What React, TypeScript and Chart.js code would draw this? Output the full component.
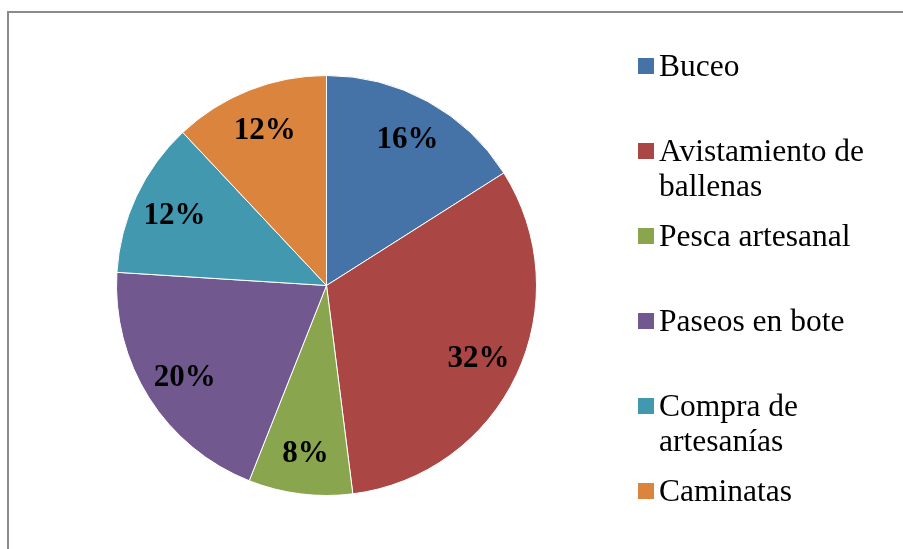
import React, { useEffect, useRef } from "react";
import { Chart, registerables } from "chart.js";

Chart.register(...registerables);

const categories = [
  "Buceo",
  "Avistamiento de ballenas",
  "Pesca artesanal",
  "Paseos en bote",
  "Compra de artesanías",
  "Caminatas",
];
const shares = [16, 32, 8, 20, 12, 12];
const colors = ["#4572A7", "#AA4643", "#89A54E", "#71588F", "#4198AF", "#DB843D"];

const W = 903;
const H = 549;
const SERIF = "'Liberation Serif', 'Times New Roman', serif";

function wrapText(ctx: CanvasRenderingContext2D, text: string, maxWidth: number): string[] {
  const words = text.split(" ");
  const lines: string[] = [];
  let cur = "";
  for (const w of words) {
    const test = cur ? cur + " " + w : w;
    if (cur && ctx.measureText(test).width > maxWidth) {
      lines.push(cur);
      cur = w;
    } else {
      cur = test;
    }
  }
  if (cur) lines.push(cur);
  return lines;
}

const sliceLabels = {
  id: "sliceLabels",
  afterDatasetsDraw(chart: any) {
    const ctx = chart.ctx as CanvasRenderingContext2D;
    const meta = chart.getDatasetMeta(0);
    const data = chart.data.datasets[0].data as number[];
    ctx.save();
    ctx.font = `bold 31px ${SERIF}`;
    ctx.fillStyle = "#000";
    ctx.textAlign = "center";
    ctx.textBaseline = "alphabetic";
    meta.data.forEach((arc: any, i: number) => {
      const { x, y, startAngle, endAngle, outerRadius } = arc.getProps(
        ["x", "y", "startAngle", "endAngle", "outerRadius"],
        true
      );
      const mid = (startAngle + endAngle) / 2;
      const r = outerRadius * 0.8;
      ctx.fillText(`${data[i]}%`, x + Math.cos(mid) * r, y + Math.sin(mid) * r + 10);
    });
    ctx.restore();
  },
};

const sideLegend = {
  id: "sideLegend",
  afterDraw(chart: any) {
    const ctx = chart.ctx as CanvasRenderingContext2D;
    const labels = chart.data.labels as string[];
    const bg = chart.data.datasets[0].backgroundColor as string[];
    ctx.save();
    ctx.font = `31.5px ${SERIF}`;
    ctx.textAlign = "left";
    ctx.textBaseline = "alphabetic";
    labels.forEach((label, i) => {
      const cy = 66 + 85 * i;
      ctx.fillStyle = bg[i];
      ctx.fillRect(638, cy - 8, 16, 16);
      const lines = wrapText(ctx, label, 220);
      ctx.fillStyle = "#000";
      lines.forEach((ln, j) => ctx.fillText(ln, 659, cy + 10 + j * 35));
    });
    ctx.restore();
  },
};

export default function App() {
  const ref = useRef<HTMLCanvasElement | null>(null);

  useEffect(() => {
    if (!ref.current) return;
    const chart = new Chart(ref.current, {
      type: "pie",
      data: {
        labels: categories,
        datasets: [
          {
            data: shares,
            backgroundColor: colors,
            borderColor: "#ffffff",
            borderWidth: 1,
            hoverOffset: 0,
          },
        ],
      },
      options: {
        responsive: false,
        animation: false,
        events: [],
        layout: { padding: { left: 116, right: 366, top: 75, bottom: 53 } },
        plugins: {
          legend: { display: false },
          tooltip: { enabled: false },
        },
      },
      plugins: [sliceLabels, sideLegend],
    });
    return () => chart.destroy();
  }, []);

  return (
    <div
      style={{
        position: "fixed",
        left: 0,
        top: 0,
        width: W,
        height: H,
        overflow: "hidden",
        background: "#ffffff",
      }}
    >
      <div
        style={{
          position: "absolute",
          left: 7,
          top: 11,
          width: 2000,
          height: 2000,
          border: "2px solid #8a8a8a",
        }}
      />
      <canvas
        ref={ref}
        width={W}
        height={H}
        style={{ position: "absolute", left: 0, top: 0, width: W, height: H }}
      />
    </div>
  );
}
